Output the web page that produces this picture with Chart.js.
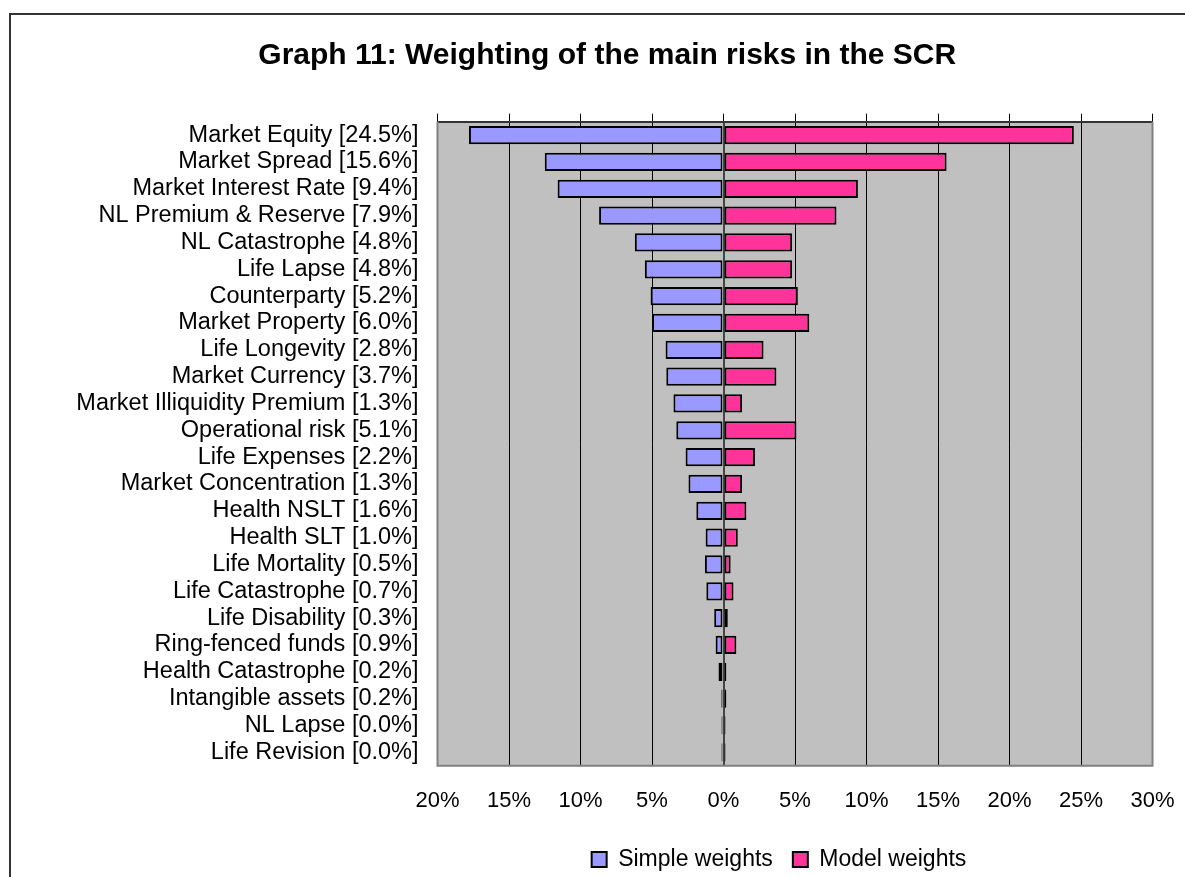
<!DOCTYPE html>
<html>
<head>
<meta charset="utf-8">
<script src="https://cdn.jsdelivr.net/npm/chart.js@4.4.0/dist/chart.umd.min.js"></script>
<style>
  body { margin: 0; background: #fff; }
  #wrap { position: relative; width: 1185px; height: 877px; overflow: hidden; }
  #frame { position: absolute; left: 9px; top: 13px; width: 1300px; height: 1000px;
           border-left: 2px solid #333; border-top: 2px solid #333; }
  canvas { position: absolute; left: 0; top: 0; }
</style>
</head>
<body>
<div id="wrap">
  <div id="frame"></div>
  <canvas id="riskchart"></canvas>
</div>
<script>
const chartTitle = 'Graph 11: Weighting of the main risks in the SCR';
const riskLabels = [
  'Market Equity [24.5%]',
  'Market Spread [15.6%]',
  'Market Interest Rate [9.4%]',
  'NL Premium & Reserve [7.9%]',
  'NL Catastrophe [4.8%]',
  'Life Lapse [4.8%]',
  'Counterparty [5.2%]',
  'Market Property [6.0%]',
  'Life Longevity [2.8%]',
  'Market Currency [3.7%]',
  'Market Illiquidity Premium [1.3%]',
  'Operational risk [5.1%]',
  'Life Expenses [2.2%]',
  'Market Concentration [1.3%]',
  'Health NSLT [1.6%]',
  'Health SLT [1.0%]',
  'Life Mortality [0.5%]',
  'Life Catastrophe [0.7%]',
  'Life Disability [0.3%]',
  'Ring-fenced funds [0.9%]',
  'Health Catastrophe [0.2%]',
  'Intangible assets [0.2%]',
  'NL Lapse [0.0%]',
  'Life Revision [0.0%]'
];
// simple weights are plotted to the left (negative side)
const simpleWeights = [-17.8, -12.5, -11.6, -8.7, -6.2, -5.5, -5.1, -5.0, -4.05, -4.0, -3.5, -3.3,
  -2.65, -2.45, -1.9, -1.25, -1.3, -1.2, -0.65, -0.55, -0.35, -0.15, -0.1, -0.08];
const modelWeights = [24.5, 15.6, 9.4, 7.9, 4.8, 4.8, 5.2, 6.0, 2.8, 3.7, 1.3, 5.1,
  2.2, 1.3, 1.6, 1.0, 0.5, 0.7, 0.3, 0.9, 0.2, 0.2, 0.04, 0.03];
const xMin = -20;
const xMax = 30;
const xStep = 5;

const chartCanvas = document.querySelector('#riskchart');
chartCanvas.width = 1185;
chartCanvas.height = 877;

Chart.defaults.font.family = '"Liberation Sans", Arial, sans-serif';
Chart.defaults.color = '#000';

const plotBackground = {
  id: 'plotBackground',
  beforeDraw(chart) {
    const {ctx, chartArea: a} = chart;
    ctx.save();
    ctx.fillStyle = '#C0C0C0';
    ctx.fillRect(a.left, a.top, a.right - a.left, a.bottom - a.top);
    ctx.restore();
  },
  afterDatasetsDraw(chart) {
    const {ctx, chartArea: a} = chart;
    ctx.save();
    ctx.strokeStyle = '#808080';
    ctx.lineWidth = 2;
    ctx.beginPath();
    ctx.moveTo(a.left, a.top);
    ctx.lineTo(a.left, a.bottom);
    ctx.lineTo(a.right, a.bottom);
    ctx.lineTo(a.right, a.top);
    ctx.stroke();
    ctx.restore();
  }
};

// nudge the legend a bit to the left, like the original
const legendShift = {
  id: 'legendShift',
  afterLayout(chart) {
    chart.legend.left -= 16;
    chart.legend.right -= 16;
  }
};

// the x labels must not push the plot in from the right
function noSidePadding(s, h) {
  s.height = h;
  s.paddingLeft = 0;
  s.paddingRight = 0;
}

const riskChart = new Chart(chartCanvas, {
  type: 'bar',
  data: {
    labels: riskLabels,
    datasets: [
      {
        label: 'Simple weights',
        data: simpleWeights,
        backgroundColor: '#9999FF',
        borderColor: '#000',
        borderWidth: 2,
        borderSkipped: false,
        minBarLength: 2,
        barPercentage: 0.68,
        categoryPercentage: 1
      },
      {
        label: 'Model weights',
        data: modelWeights,
        backgroundColor: '#FF3399',
        borderColor: '#000',
        borderWidth: 2,
        borderSkipped: false,
        minBarLength: 2,
        barPercentage: 0.68,
        categoryPercentage: 1
      }
    ]
  },
  options: {
    indexAxis: 'y',
    responsive: false,
    animation: false,
    layout: {
      padding: { left: 62, right: 32.5, top: 0, bottom: -4 }
    },
    scales: {
      x: {
        type: 'linear',
        position: 'bottom',
        stacked: true,
        min: xMin,
        max: xMax,
        ticks: {
          stepSize: xStep,
          padding: 22,
          font: { size: 22 },
          color: '#000',
          callback: v => Math.abs(v) + '%'
        },
        grid: {
          drawTicks: false,
          color: c => {
            const v = c.tick.value;
            if (v === xMin || v === xMax) return 'rgba(0,0,0,0)';
            return v === 0 ? '#444' : '#000';
          },
          lineWidth: c => (c.tick.value === 0 ? 2 : 1)
        },
        border: { display: false },
        afterFit: s => noSidePadding(s, 62.3)
      },
      xTop: {
        type: 'linear',
        position: 'top',
        min: xMin,
        max: xMax,
        ticks: { display: false, stepSize: xStep },
        grid: { drawOnChartArea: false, drawTicks: true, tickLength: 8, color: '#000' },
        border: { display: true, color: '#333', width: 2 },
        afterFit: s => noSidePadding(s, 8)
      },
      y: {
        stacked: true,
        grid: { display: false, drawTicks: false },
        border: { display: false },
        ticks: {
          autoSkip: false,
          padding: 19,
          font: { size: 23.5 },
          color: '#000'
        },
        afterFit: s => { s.width = 375.5; }
      }
    },
    plugins: {
      title: {
        display: true,
        text: chartTitle,
        color: '#000',
        font: { size: 30, weight: 'bold' },
        padding: { top: 38, bottom: 39.7 }
      },
      legend: {
        position: 'bottom',
        fullSize: false,
        labels: {
          boxWidth: 15,
          boxHeight: 15,
          padding: 20,
          color: '#000',
          font: { size: 23 }
        }
      },
      tooltip: { enabled: false }
    }
  },
  plugins: [plotBackground, legendShift]
});
</script>
</body>
</html>
